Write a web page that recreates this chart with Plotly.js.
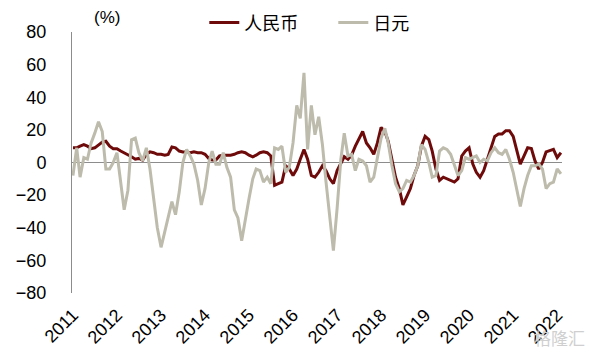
<!DOCTYPE html>
<html><head><meta charset="utf-8">
<script src="https://cdn.plot.ly/plotly-3.0.1.min.js"></script>
<style>html,body{margin:0;padding:0;background:#fff}</style>
</head><body><div id="chart" style="width:590px;height:356px"></div>
<script>
const startYear = 2011;
const tickYears = [2011,2012,2013,2014,2015,2016,2017,2018,2019,2020,2021,2022];
const seriesNames = ['人民币','日元'];
const rmb = [9,9,10,11,10,8.5,9,11,12.5,13,
10,8.5,8.5,7,6,5,3.5,2,2.5,1.5,
5,6.5,6,5,5,4.5,5,9.5,9,7,
6.5,6.5,6,6.5,6,6,5,2.5,1.5,1.5,
4,4.5,4.5,4.5,5,6,6.5,6,4.5,3.5,
4.5,6,6.5,6,4,-14,-13,-12,-2,-4,
-8,-4,2,8,2,-8,-9,-6,-2,-5,
-10,-13,-5,0,3.5,2,4.5,10,14,19,
12,9,5,12,21.5,19,13,2,-9,-16,
-26,-21,-16,-8,-2,10,16,14,7,-4,
-11,-9,-10,-11,-12,-10,4,7,9,-1,
-6,-9,-5,2,9,16,17.5,17.5,19.5,19.5,
16,6,-1,4,9,8.5,1,-4,0,6.5,
7.5,8,3,6];
const jpy = [-8,9,-9,3,2,12,18,25,19,-4,
-4,0,6,-12,-29,-17,14,15,6,1,
9,-4,-24,-40,-52,-42,-32,-24,-32,-18,
0,8,4,-1,-11,-26,-16,0,7,-1,
-1,6,-3,-9,-29,-34,-48,-34,-22,-10,
-4,-5,-12,-9,-13,9,8,10,-6,-3,
12,35,27,55,8,35,17,28,11,-12,
-35,-54,-28,2,18,4,5,-5,2,1,
-2,-12,-9,2,15,21,12,-2,-13,-18,
-16,-11,-12,-8,-2,11,8,0,-9,-8,
7,9,8,5,-1,-8,-5,3,2,3,
4,0,2,1,6,9,6,5,8,2,
-6,-17,-27,-16,-8,-2,-2,-1,-4,-16,
-13,-12,-4,-7];

const months = rmb.map((_, i) => {
  const y = startYear + Math.floor(i / 12);
  const m = (i % 12) + 1;
  return y + '-' + String(m).padStart(2, '0') + '-01';
});
const tickvals = tickYears.map(y => y + '-01-01');
const ticktext = tickYears.map(String);

const baseFont = 'Liberation Sans, Arial, Noto Sans CJK SC, sans-serif';

const traces = [
  {x: months, y: rmb, name: seriesNames[0], type: 'scatter', mode: 'lines',
   line: {color: '#6E0A0A', width: 3}},
  {x: months, y: jpy, name: seriesNames[1], type: 'scatter', mode: 'lines',
   line: {color: '#BDBBAB', width: 3}}
];

const layout = {
  width: 590, height: 356,
  margin: {l: 72, r: 28, t: 32, b: 63, autoexpand: false},
  paper_bgcolor: '#fff', plot_bgcolor: '#fff',
  font: {family: baseFont, size: 18, color: '#000'},
  showlegend: true,
  legend: {orientation: 'h', x: 0.27, xanchor: 'left', y: 1.035, yanchor: 'middle',
           font: {family: 'Noto Sans CJK SC, sans-serif', size: 18, color: '#000'},
           bgcolor: 'rgba(0,0,0,0)', entrywidth: 84, entrywidthmode: 'pixels'},
  xaxis: {type: 'date', range: ['2010-12-24', '2022-02-10'],
          tickvals: tickvals, ticktext: ticktext, tickangle: -45,
          showgrid: false, showline: false, zeroline: false, ticks: '',
          ticklabelstandoff: 7,
          tickfont: {family: baseFont, size: 18, color: '#000'}},
  yaxis: {range: [-80, 80], tickvals: [-80,-60,-40,-20,0,20,40,60,80],
          showgrid: false, showline: true, linecolor: '#8c8c8c', linewidth: 1,
          zeroline: true, zerolinecolor: '#8c8c8c', zerolinewidth: 1,
          ticks: '', ticklabelstandoff: 21,
          tickfont: {family: baseFont, size: 18, color: '#000'}},
  annotations: [
    {text: '(%)', xref: 'paper', yref: 'paper', x: 0.072, y: 1.055, xanchor: 'center', yanchor: 'middle',
     showarrow: false, font: {family: baseFont, size: 17, color: '#000'}},
    {text: '格隆汇', xref: 'paper', yref: 'paper', x: 1.05, y: -0.17, xanchor: 'right', yanchor: 'middle',
     showarrow: false, font: {family: 'Noto Sans CJK SC, sans-serif', size: 17, color: '#cfcfcf'}}
  ]
};

Plotly.newPlot('chart', traces, layout, {displayModeBar: false, staticPlot: true});
</script>
</body></html>
